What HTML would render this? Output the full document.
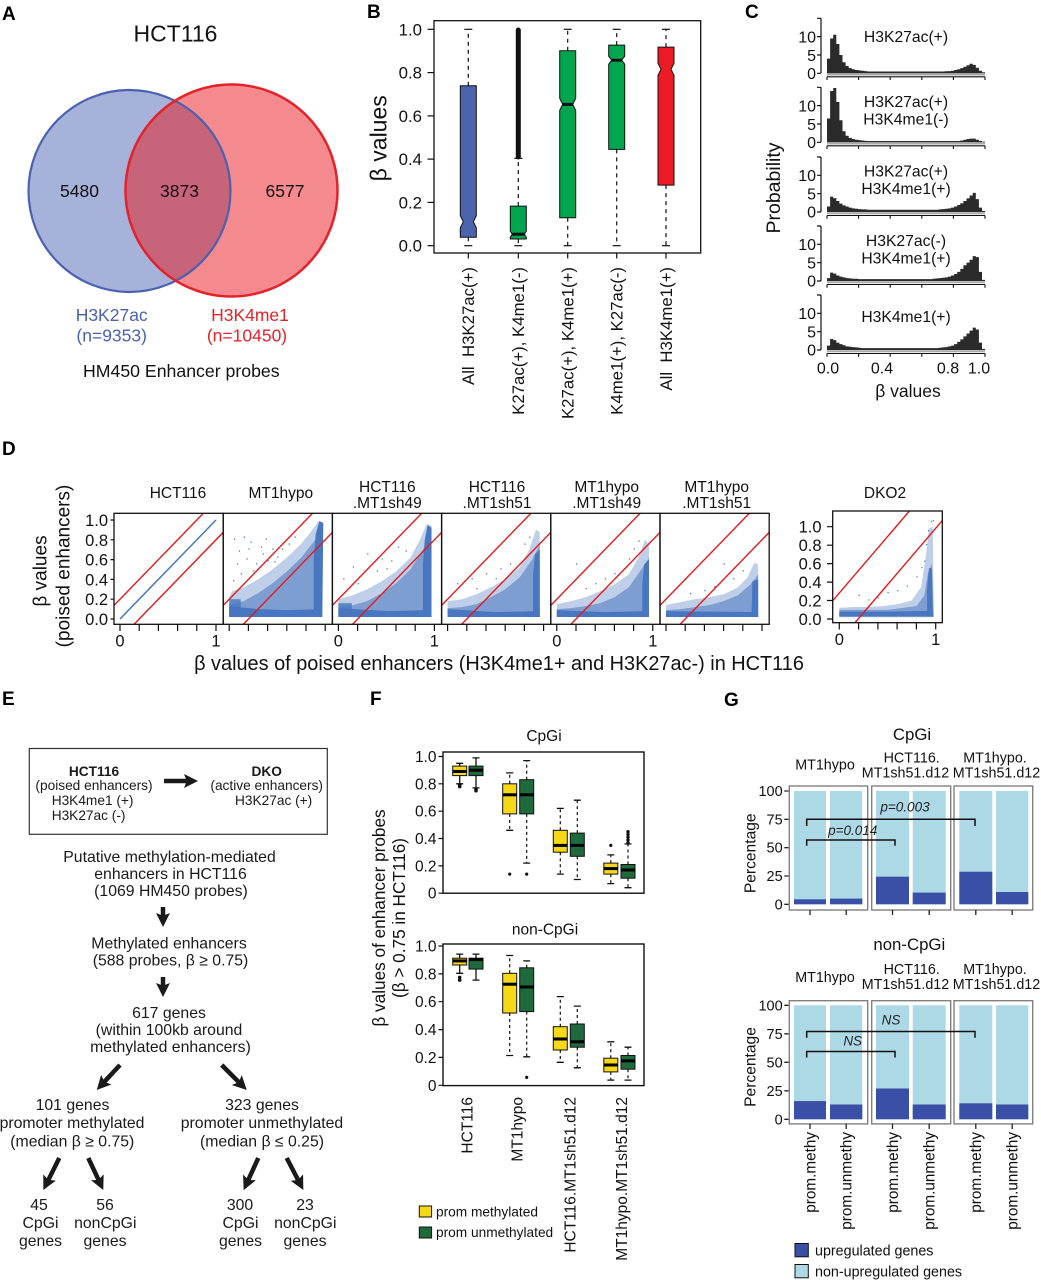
<!DOCTYPE html>
<html><head><meta charset="utf-8"><style>
html,body{margin:0;padding:0;background:#fff;}
svg{display:block;font-family:"Liberation Sans",Arial,sans-serif;}
</style></head><body>
<svg width="1041" height="1280" viewBox="0 0 1041 1280" xmlns="http://www.w3.org/2000/svg">
<rect width="1041" height="1280" fill="#fff"/>
<defs>
<clipPath id="blueC"><circle cx="129.5" cy="191" r="101"/></clipPath>
<clipPath id="dclip"><rect x="114" y="513.3" width="109.2" height="111"/></clipPath>
<clipPath id="dkclip"><rect x="832.7" y="511" width="109.6" height="111.7"/></clipPath>
<marker id="ah" viewBox="0 0 10 10" refX="3" refY="5" markerWidth="14" markerHeight="14" markerUnits="userSpaceOnUse" orient="auto"><path d="M0,0 L10,5 L0,10 L2,5 z" fill="#1a1a1a"/></marker>
</defs>

<!-- ================= A ================= -->
<text x="2" y="20" font-size="19" font-weight="bold">A</text>
<text x="175.5" y="41.5" font-size="23" text-anchor="middle" fill="#111">HCT116</text>
<circle cx="129.5" cy="191" r="101" fill="#a6b2da"/>
<circle cx="231.5" cy="190.5" r="106" fill="#f48a8e"/>
<circle cx="231.5" cy="190.5" r="106" fill="#c8647a" clip-path="url(#blueC)"/>
<circle cx="129.5" cy="191" r="101" fill="none" stroke="#4a62b0" stroke-width="2.2"/>
<circle cx="231.5" cy="190.5" r="106" fill="none" stroke="#e3222a" stroke-width="2.5"/>
<g font-size="17.5" text-anchor="middle" fill="#111">
<text x="79.5" y="197">5480</text>
<text x="179.5" y="197">3873</text>
<text x="285" y="197">6577</text>
</g>
<g font-size="17.5" text-anchor="middle">
<text x="111.7" y="321" fill="#4a62b0">H3K27ac</text>
<text x="111.7" y="341.5" fill="#4a62b0">(n=9353)</text>
<text x="250" y="321" fill="#e3222a">H3K4me1</text>
<text x="247" y="341.5" fill="#e3222a">(n=10450)</text>
</g>
<text x="181.3" y="377" font-size="17.7" text-anchor="middle" fill="#111">HM450 Enhancer probes</text>

<!-- ================= B ================= -->
<text x="367" y="18" font-size="19" font-weight="bold">B</text>
<rect x="434" y="20.7" width="266.7" height="232.3" fill="none" stroke="#111" stroke-width="1.3"/>
<g stroke="#111" stroke-width="1.2">
<line x1="427.5" y1="29.3" x2="434" y2="29.3"/>
<line x1="427.5" y1="72.6" x2="434" y2="72.6"/>
<line x1="427.5" y1="115.9" x2="434" y2="115.9"/>
<line x1="427.5" y1="159.1" x2="434" y2="159.1"/>
<line x1="427.5" y1="202.4" x2="434" y2="202.4"/>
<line x1="427.5" y1="245.7" x2="434" y2="245.7"/>
</g>
<g font-size="16.8" text-anchor="end" fill="#111">
<text x="422" y="35.3">1.0</text>
<text x="422" y="78.6">0.8</text>
<text x="422" y="121.9">0.6</text>
<text x="422" y="165.1">0.4</text>
<text x="422" y="208.4">0.2</text>
<text x="422" y="251.7">0.0</text>
</g>
<text transform="translate(386.5,138.3) rotate(-90)" font-size="23" text-anchor="middle" fill="#111">β values</text>
<g stroke="#111" stroke-width="1.2" stroke-dasharray="4,4">
<line x1="468.3" y1="85.8" x2="468.3" y2="29.3"/><line x1="468.3" y1="237.3" x2="468.3" y2="245.7"/>
<line x1="518.3" y1="206.1" x2="518.3" y2="158.3"/><line x1="518.3" y1="239" x2="518.3" y2="245.7"/>
<line x1="567.7" y1="50.7" x2="567.7" y2="29.3"/><line x1="567.7" y1="217.8" x2="567.7" y2="245.7"/>
<line x1="616.7" y1="45.1" x2="616.7" y2="29.3"/><line x1="616.7" y1="149.4" x2="616.7" y2="245.7"/>
<line x1="666" y1="47.1" x2="666" y2="29.3"/><line x1="666" y1="185.1" x2="666" y2="245.7"/>
</g>
<g stroke="#111" stroke-width="1.2">
<line x1="464.3" y1="29.3" x2="472.3" y2="29.3"/><line x1="464.3" y1="245.7" x2="472.3" y2="245.7"/>
<line x1="514.3" y1="158.3" x2="522.3" y2="158.3"/><line x1="514.3" y1="245.7" x2="522.3" y2="245.7"/>
<line x1="563.7" y1="29.3" x2="571.7" y2="29.3"/><line x1="563.7" y1="245.7" x2="571.7" y2="245.7"/>
<line x1="612.7" y1="29.3" x2="620.7" y2="29.3"/><line x1="612.7" y1="245.7" x2="620.7" y2="245.7"/>
<line x1="662" y1="29.3" x2="670" y2="29.3"/><line x1="662" y1="245.7" x2="670" y2="245.7"/>
</g>
<line x1="518.3" y1="157" x2="518.3" y2="30" stroke="#111" stroke-width="5" stroke-linecap="round"/>
<g stroke="#111" stroke-width="1">
<polygon fill="#4a63ad" points="460.3,237.3 476.3,237.3 476.3,227.7 473.3,221.7 476.3,215.7 476.3,85.8 460.3,85.8 460.3,215.7 463.3,221.7 460.3,227.7"/>
<polygon fill="#00a54f" points="510.3,239 526.3,239 526.3,237.2 524.3,234.2 526.3,231.2 526.3,206.1 510.3,206.1 510.3,231.2 512.3,234.2 510.3,237.2"/>
<polygon fill="#00a54f" points="559.7,217.8 575.7,217.8 575.7,110.4 572.7,104.4 575.7,98.4 575.7,50.7 559.7,50.7 559.7,98.4 562.7,104.4 559.7,110.4"/>
<polygon fill="#00a54f" points="608.7,149.4 624.7,149.4 624.7,64.2 621.7,60.2 624.7,56.2 624.7,45.1 608.7,45.1 608.7,56.2 611.7,60.2 608.7,64.2"/>
<polygon fill="#ed1c24" points="658,185.1 674,185.1 674,75.3 671,69.3 674,63.3 674,47.1 658,47.1 658,63.3 661,69.3 658,75.3"/>
</g>
<g stroke="#111" stroke-width="3">
<line x1="512.3" y1="234.2" x2="524.3" y2="234.2"/>
<line x1="562.7" y1="104.4" x2="572.7" y2="104.4"/>
<line x1="611.7" y1="60.2" x2="621.7" y2="60.2"/>
</g>
<g stroke="#111" stroke-width="1.2">
<line x1="468.3" y1="253" x2="468.3" y2="258.5"/>
<line x1="518.3" y1="253" x2="518.3" y2="258.5"/>
<line x1="567.7" y1="253" x2="567.7" y2="258.5"/>
<line x1="616.7" y1="253" x2="616.7" y2="258.5"/>
<line x1="666" y1="253" x2="666" y2="258.5"/>
</g>
<g font-size="16.8" text-anchor="end" fill="#111">
<text transform="translate(474.2,267) rotate(-90)" xml:space="preserve">All  H3K27ac(+)</text>
<text transform="translate(524.2,267) rotate(-90)">K27ac(+), K4me1(-)</text>
<text transform="translate(573.6,267) rotate(-90)">K27ac(+), K4me1(+)</text>
<text transform="translate(622.6,267) rotate(-90)">K4me1(+), K27ac(-)</text>
<text transform="translate(671.9,267) rotate(-90)" xml:space="preserve">All  H3K4me1(+)</text>
</g>

<!-- ================= C ================= -->
<text x="745" y="18" font-size="19" font-weight="bold">C</text>
<text transform="translate(780,188) rotate(-90)" font-size="19.5" text-anchor="middle" fill="#111">Probability</text>
<g fill="#2b2b2b">
<path transform="translate(827,73.3) scale(3.1,-3.667)" d="M0,0 V4 H1 V9.5 H2 V10.5 H3 V8 H4 V5 H5 V3 H6 V2 H7 V1.4 H8 V1.1 H9 V0.9 H10 V0.8 H11 V0.7 H12 V0.6 H13 V0.5 H38 V0.55 H39 V0.6 H40 V0.7 H41 V0.9 H42 V1.1 H43 V1.4 H44 V1.8 H45 V2.2 H46 V2.6 H47 V2.3 H48 V1.5 H49 V0.7 H50 V0.3 H51 V0 Z"/>
<path transform="translate(827,142.3) scale(3.1,-3.667)" d="M0,0 V6.5 H1 V14 H2 V14.8 H3 V11 H4 V6 H5 V3 H6 V1.8 H7 V1.2 H8 V0.9 H9 V0.7 H10 V0.6 H11 V0.5 H12 V0.4 H13 V0.35 H43 V0.5 H44 V0.7 H45 V0.9 H46 V1.0 H47 V1.0 H48 V0.7 H49 V0.4 H50 V0.2 H51 V0 Z"/>
<path transform="translate(827,212) scale(3.1,-3.667)" d="M0,0 V1.5 H1 V4.2 H2 V3.8 H3 V3.0 H4 V2.3 H5 V1.8 H6 V1.5 H7 V1.2 H8 V1.0 H9 V0.9 H10 V0.8 H11 V0.7 H13 V0.6 H36 V0.7 H37 V0.8 H38 V0.9 H39 V1.0 H40 V1.2 H41 V1.5 H42 V1.9 H43 V2.4 H44 V3.0 H45 V3.7 H46 V4.5 H47 V5.2 H48 V3.5 H49 V1.2 H50 V0.3 H51 V0 Z"/>
<path transform="translate(827,281) scale(3.1,-3.667)" d="M0,0 V0.8 H1 V2.3 H2 V2.0 H3 V1.5 H4 V1.2 H5 V1.0 H6 V0.8 H7 V0.7 H8 V0.6 H10 V0.5 H34 V0.6 H35 V0.7 H36 V0.8 H37 V0.9 H38 V1.0 H39 V1.2 H40 V1.5 H41 V1.9 H42 V2.5 H43 V3.3 H44 V4.3 H45 V5.0 H46 V5.8 H47 V6.8 H48 V6.5 H49 V2.5 H50 V0.3 H51 V0 Z"/>
<path transform="translate(827,350) scale(3.1,-3.667)" d="M0,0 V1.2 H1 V3.0 H2 V2.7 H3 V2.0 H4 V1.6 H5 V1.3 H6 V1.0 H7 V0.9 H8 V0.8 H9 V0.7 H10 V0.6 H11 V0.5 H36 V0.6 H37 V0.7 H38 V0.8 H39 V1.0 H40 V1.2 H41 V1.6 H42 V2.2 H43 V2.9 H44 V3.7 H45 V4.5 H46 V5.3 H47 V6.1 H48 V5.6 H49 V2.0 H50 V0.3 H51 V0 Z"/>
</g>
<g stroke="#111" stroke-width="1.2" fill="none">
<path d="M821,18.3 V73.3 M817,18.3 H821 M817,36.6 H821 M817,55 H821 M817,73.3 H821"/>
<path d="M821,87.3 V142.3 M817,87.3 H821 M817,105.6 H821 M817,124 H821 M817,142.3 H821"/>
<path d="M821,157 V212 M817,157 H821 M817,175.3 H821 M817,193.7 H821 M817,212 H821"/>
<path d="M821,226 V281 M817,226 H821 M817,244.3 H821 M817,262.7 H821 M817,281 H821"/>
<path d="M821,295 V350 M817,295 H821 M817,313.3 H821 M817,331.7 H821 M817,350 H821"/>
</g>
<g stroke="#aaa" stroke-width="2">
<line x1="827" y1="74.5" x2="985" y2="74.5"/><line x1="827" y1="143.5" x2="985" y2="143.5"/><line x1="827" y1="213.2" x2="985" y2="213.2"/><line x1="827" y1="282.2" x2="985" y2="282.2"/><line x1="827" y1="351.2" x2="985" y2="351.2"/>
</g>
<g stroke="#111" stroke-width="1.1" fill="none">
<path d="M827,76.8 H985 M827,76.8 V80 M858.6,76.8 V80 M890.2,76.8 V80 M921.8,76.8 V80 M953.4,76.8 V80 M985,76.8 V80"/>
<path d="M827,145.8 H985 M827,145.8 V149 M858.6,145.8 V149 M890.2,145.8 V149 M921.8,145.8 V149 M953.4,145.8 V149 M985,145.8 V149"/>
<path d="M827,215.5 H985 M827,215.5 V218.7 M858.6,215.5 V218.7 M890.2,215.5 V218.7 M921.8,215.5 V218.7 M953.4,215.5 V218.7 M985,215.5 V218.7"/>
<path d="M827,284.5 H985 M827,284.5 V287.7 M858.6,284.5 V287.7 M890.2,284.5 V287.7 M921.8,284.5 V287.7 M953.4,284.5 V287.7 M985,284.5 V287.7"/>
<path d="M827,353.5 H985 M827,353.5 V356.7 M858.6,353.5 V356.7 M890.2,353.5 V356.7 M921.8,353.5 V356.7 M953.4,353.5 V356.7 M985,353.5 V356.7"/>
</g>
<g font-size="16" text-anchor="end" fill="#111">
<text x="816" y="42.3">10</text><text x="816" y="60.8">5</text><text x="816" y="79">0</text>
<text x="816" y="111.3">10</text><text x="816" y="129.8">5</text><text x="816" y="148">0</text>
<text x="816" y="181">10</text><text x="816" y="199.5">5</text><text x="816" y="217.7">0</text>
<text x="816" y="250">10</text><text x="816" y="268.5">5</text><text x="816" y="286.7">0</text>
<text x="816" y="319">10</text><text x="816" y="337.5">5</text><text x="816" y="355.7">0</text>
</g>
<g font-size="15.7" text-anchor="middle" fill="#111">
<text x="906" y="42">H3K27ac(+)</text>
<text x="906" y="107">H3K27ac(+)</text><text x="906" y="124.5">H3K4me1(-)</text>
<text x="906" y="176.5">H3K27ac(+)</text><text x="906" y="194">H3K4me1(+)</text>
<text x="906" y="246">H3K27ac(-)</text><text x="906" y="263.5">H3K4me1(+)</text>
<text x="906" y="322">H3K4me1(+)</text>
</g>
<g font-size="16" text-anchor="middle" fill="#111">
<text x="828" y="373.5">0.0</text><text x="882" y="373.5">0.4</text><text x="948" y="373.5">0.8</text><text x="979" y="373.5">1.0</text>
</g>
<text x="908" y="397" font-size="17.5" text-anchor="middle" fill="#111">β values</text>

<!-- ================= D ================= -->
<text x="2" y="455" font-size="19" font-weight="bold">D</text>
<g font-size="19" text-anchor="middle" fill="#111">
<text transform="translate(46.7,571) rotate(-90)">β values</text>
<text transform="translate(69.7,566) rotate(-90)">(poised enhancers)</text>
</g>
<g font-size="15.5" text-anchor="middle" fill="#111">
<text x="178" y="498">HCT116</text>
<text x="280.8" y="498">MT1hypo</text>
<text x="387.3" y="492">HCT116</text><text x="387.3" y="508">.MT1sh49</text>
<text x="497" y="492">HCT116</text><text x="497" y="508">.MT1sh51</text>
<text x="606.7" y="492">MT1hypo</text><text x="606.7" y="508">.MT1sh49</text>
<text x="716.7" y="492">MT1hypo</text><text x="716.7" y="508">.MT1sh51</text>
<text x="885" y="498">DKO2</text>
</g>
<g fill="#4876c0">
<g transform="translate(229.2,619) scale(0.96,-0.99)">
<polygon fill-opacity="0.35" points="0,2 95,2 98,97 93,99 85,88 75,76 60,62 45,50 30,40 15,32 3,28 0,22"/>
<polygon fill-opacity="0.55" points="0,2 96,2 97,90 88,78 75,62 60,48 45,36 30,26 15,18 0,14"/>
<polygon points="0,2 96,2 96,10 60,9 30,10 0,13"/>
<polygon points="88,2 97,2 98,97 94,99 90,85 88,60"/>
<polygon fill-opacity="0.8" points="0,2 12,2 12,20 0,20"/>
<g><rect x="5" y="80" width="1.3" height="1.3"/><rect x="10" y="68" width="1.3" height="1.3"/><rect x="15" y="82" width="1.3" height="1.3"/><rect x="22" y="77" width="1.3" height="1.3"/><rect x="18" y="60" width="1.3" height="1.3"/><rect x="28" y="55" width="1.3" height="1.3"/><rect x="35" y="65" width="1.3" height="1.3"/><rect x="40" y="58" width="1.3" height="1.3"/><rect x="12" y="45" width="1.3" height="1.3"/><rect x="25" y="48" width="1.3" height="1.3"/><rect x="45" y="70" width="1.3" height="1.3"/><rect x="50" y="62" width="1.3" height="1.3"/><rect x="8" y="55" width="1.3" height="1.3"/><rect x="33" y="72" width="1.3" height="1.3"/><rect x="55" y="70" width="1.3" height="1.3"/><rect x="38" y="80" width="1.3" height="1.3"/><rect x="62" y="75" width="1.3" height="1.3"/><rect x="20" y="70" width="1.3" height="1.3"/><rect x="4" y="38" width="1.3" height="1.3"/><rect x="30" y="50" width="1.3" height="1.3"/><rect x="47" y="57" width="1.3" height="1.3"/><rect x="68" y="82" width="1.3" height="1.3"/></g>
</g>
<g transform="translate(338.4,619) scale(0.96,-0.99)">
<polygon fill-opacity="0.35" points="0,2 95,2 97,94 92,96 85,80 75,62 60,48 45,38 30,30 15,24 0,20"/>
<polygon fill-opacity="0.55" points="0,2 96,2 96,85 88,70 75,50 60,36 45,26 30,18 15,14 0,12"/>
<polygon points="0,2 96,2 96,9 50,8 0,11"/>
<polygon points="88,2 97,2 97,92 93,95 90,80 88,55"/>
<polygon fill-opacity="0.8" points="0,2 14,2 14,16 0,16"/>
<g><rect x="5" y="40" width="1.3" height="1.3"/><rect x="15" y="52" width="1.3" height="1.3"/><rect x="25" y="45" width="1.3" height="1.3"/><rect x="35" y="55" width="1.3" height="1.3"/><rect x="45" y="60" width="1.3" height="1.3"/><rect x="55" y="58" width="1.3" height="1.3"/><rect x="62" y="72" width="1.3" height="1.3"/><rect x="70" y="68" width="1.3" height="1.3"/><rect x="20" y="35" width="1.3" height="1.3"/><rect x="40" y="48" width="1.3" height="1.3"/><rect x="30" y="65" width="1.3" height="1.3"/><rect x="50" y="50" width="1.3" height="1.3"/></g>
</g>
<g transform="translate(447.6,619) scale(0.96,-0.99)">
<polygon fill-opacity="0.35" points="0,2 95,2 96,88 92,90 85,70 75,52 60,40 45,32 30,25 15,20 0,18"/>
<polygon fill-opacity="0.55" points="0,2 96,2 96,75 88,60 75,42 60,30 45,22 30,15 15,12 0,11"/>
<polygon points="0,2 96,2 96,8 50,7 0,10"/>
<polygon points="89,2 96,2 96,70 91,65 89,45"/>
<g><rect x="10" y="35" width="1.3" height="1.3"/><rect x="25" y="40" width="1.3" height="1.3"/><rect x="40" y="45" width="1.3" height="1.3"/><rect x="55" y="50" width="1.3" height="1.3"/><rect x="65" y="55" width="1.3" height="1.3"/><rect x="80" y="75" width="1.3" height="1.3"/><rect x="85" y="82" width="1.3" height="1.3"/><rect x="30" y="30" width="1.3" height="1.3"/><rect x="50" y="40" width="1.3" height="1.3"/></g>
</g>
<g transform="translate(556.8,619) scale(0.96,-0.99)">
<polygon fill-opacity="0.35" points="0,2 96,2 96,75 92,80 85,62 75,45 60,35 45,28 30,22 15,18 0,15"/>
<polygon fill-opacity="0.55" points="0,2 96,2 96,62 88,50 75,32 60,22 45,16 30,13 15,11 0,10"/>
<polygon points="0,2 96,2 96,8 50,7 0,9"/>
<polygon points="89,2 96,2 96,60 91,55 89,35"/>
<g><rect x="20" y="55" width="1.3" height="1.3"/><rect x="40" y="35" width="1.3" height="1.3"/><rect x="50" y="40" width="1.3" height="1.3"/><rect x="60" y="45" width="1.3" height="1.3"/><rect x="70" y="50" width="1.3" height="1.3"/><rect x="75" y="60" width="1.3" height="1.3"/><rect x="80" y="70" width="1.3" height="1.3"/><rect x="85" y="78" width="1.3" height="1.3"/><rect x="30" y="30" width="1.3" height="1.3"/></g>
</g>
<g transform="translate(666,619) scale(0.96,-0.99)">
<polygon fill-opacity="0.35" points="0,2 96,2 96,55 92,57 85,42 75,32 60,25 45,22 30,20 15,17 0,14"/>
<polygon fill-opacity="0.55" points="0,2 96,2 96,45 88,35 75,24 60,18 45,14 30,12 15,10 0,9"/>
<polygon points="0,2 96,2 96,7 0,8"/>
<polygon points="89,2 96,2 96,40 90,38"/>
<g><rect x="60" y="55" width="1.3" height="1.3"/><rect x="66" y="46" width="1.3" height="1.3"/><rect x="40" y="28" width="1.3" height="1.3"/><rect x="50" y="32" width="1.3" height="1.3"/><rect x="70" y="40" width="1.3" height="1.3"/><rect x="80" y="48" width="1.3" height="1.3"/><rect x="25" y="25" width="1.3" height="1.3"/></g>
</g>
<g transform="translate(839.3,619) scale(0.964,-0.923)">
<polygon fill-opacity="0.35" points="0,2 98,2 97,100 93,98 90,70 85,35 75,20 60,16 45,14 30,13 15,13 0,12"/>
<polygon fill-opacity="0.55" points="0,2 98,2 96,60 92,50 88,25 80,14 50,10 0,10"/>
<polygon points="0,3 97,3 97,9 50,8 0,8"/>
<polygon points="91,3 97,3 96,55 93,55 91,30"/>
<g><rect x="20" y="25" width="1.3" height="1.3"/><rect x="40" y="22" width="1.3" height="1.3"/><rect x="50" y="28" width="1.3" height="1.3"/><rect x="60" y="30" width="1.3" height="1.3"/><rect x="70" y="35" width="1.3" height="1.3"/><rect x="80" y="45" width="1.3" height="1.3"/><rect x="85" y="55" width="1.3" height="1.3"/><rect x="88" y="62" width="1.3" height="1.3"/><rect x="90" y="80" width="1.3" height="1.3"/><rect x="92" y="95" width="1.3" height="1.3"/><rect x="95" y="105" width="1.3" height="1.3"/><rect x="97" y="106" width="1.3" height="1.3"/><rect x="30" y="20" width="1.3" height="1.3"/></g>
</g>
</g>
<line x1="120" y1="619" x2="216" y2="520" stroke="#4a7bc4" stroke-width="1.6"/>
<g stroke="#e41a1c" stroke-width="1.4">
<g><g clip-path="url(#dclip)"><line x1="91.2" y1="628.9" x2="235.2" y2="480.4"/><line x1="120" y1="638.8" x2="264" y2="490.3"/></g></g>
<g transform="translate(109.2,0)"><g clip-path="url(#dclip)"><line x1="91.2" y1="628.9" x2="235.2" y2="480.4"/><line x1="120" y1="638.8" x2="264" y2="490.3"/></g></g>
<g transform="translate(218.4,0)"><g clip-path="url(#dclip)"><line x1="91.2" y1="628.9" x2="235.2" y2="480.4"/><line x1="120" y1="638.8" x2="264" y2="490.3"/></g></g>
<g transform="translate(327.6,0)"><g clip-path="url(#dclip)"><line x1="91.2" y1="628.9" x2="235.2" y2="480.4"/><line x1="120" y1="638.8" x2="264" y2="490.3"/></g></g>
<g transform="translate(436.8,0)"><g clip-path="url(#dclip)"><line x1="91.2" y1="628.9" x2="235.2" y2="480.4"/><line x1="120" y1="638.8" x2="264" y2="490.3"/></g></g>
<g transform="translate(546,0)"><g clip-path="url(#dclip)"><line x1="91.2" y1="628.9" x2="235.2" y2="480.4"/><line x1="120" y1="638.8" x2="264" y2="490.3"/></g></g>
<g clip-path="url(#dkclip)"><line x1="810" y1="627.3" x2="960" y2="451.8"/><line x1="840" y1="640.2" x2="960" y2="499.9"/></g>
</g>
<g fill="none" stroke="#111" stroke-width="1.3">
<rect x="114" y="513.3" width="109.2" height="111"/>
<rect x="223.2" y="513.3" width="109.2" height="111"/>
<rect x="332.4" y="513.3" width="109.2" height="111"/>
<rect x="441.6" y="513.3" width="109.2" height="111"/>
<rect x="550.8" y="513.3" width="109.2" height="111"/>
<rect x="660" y="513.3" width="109.2" height="111"/>
<rect x="832.7" y="511" width="109.6" height="111.7"/>
</g>
<g stroke="#111" stroke-width="1.2" fill="none">
<path d="M110.5,520 H114 M110.5,539.8 H114 M110.5,559.6 H114 M110.5,579.4 H114 M110.5,599.2 H114 M110.5,619 H114"/>
<path d="M827,526.7 H832.7 M827,545.2 H832.7 M827,563.6 H832.7 M827,582.1 H832.7 M827,600.5 H832.7 M827,619 H832.7"/>
<path d="M120,624.3 V631 M139.2,624.3 V631 M158.4,624.3 V631 M177.6,624.3 V631 M196.8,624.3 V631 M216,624.3 V631"/>
<path d="M229.2,624.3 V631 M248.4,624.3 V631 M267.6,624.3 V631 M286.8,624.3 V631 M306,624.3 V631 M325.2,624.3 V631"/>
<path d="M338.4,624.3 V631 M357.6,624.3 V631 M376.8,624.3 V631 M396,624.3 V631 M415.2,624.3 V631 M434.4,624.3 V631"/>
<path d="M447.6,624.3 V631 M466.8,624.3 V631 M486,624.3 V631 M505.2,624.3 V631 M524.4,624.3 V631 M543.6,624.3 V631"/>
<path d="M556.8,624.3 V631 M576,624.3 V631 M595.2,624.3 V631 M614.4,624.3 V631 M633.6,624.3 V631 M652.8,624.3 V631"/>
<path d="M666,624.3 V631 M685.2,624.3 V631 M704.4,624.3 V631 M723.6,624.3 V631 M742.8,624.3 V631 M762,624.3 V631"/>
<path d="M839.3,622.7 V629.5 M858.6,622.7 V629.5 M877.9,622.7 V629.5 M897.1,622.7 V629.5 M916.4,622.7 V629.5 M935.7,622.7 V629.5"/>
</g>
<g font-size="16.5" text-anchor="end" fill="#111">
<text x="108" y="526">1.0</text><text x="108" y="545.8">0.8</text><text x="108" y="565.6">0.6</text><text x="108" y="585.4">0.4</text><text x="108" y="605.2">0.2</text><text x="108" y="625">0.0</text>
<text x="821.5" y="532.7">1.0</text><text x="821.5" y="551.2">0.8</text><text x="821.5" y="569.6">0.6</text><text x="821.5" y="588.1">0.4</text><text x="821.5" y="606.5">0.2</text><text x="821.5" y="625">0.0</text>
</g>
<g font-size="16.5" text-anchor="middle" fill="#111">
<text x="120" y="646.7">0</text><text x="216" y="646.7">1</text>
<text x="338.4" y="646.7">0</text><text x="434.4" y="646.7">1</text>
<text x="556.8" y="646.7">0</text><text x="652.8" y="646.7">1</text>
<text x="839.3" y="645">0</text><text x="935.7" y="645">1</text>
</g>
<text x="499" y="670" font-size="19.9" text-anchor="middle" fill="#111">β values of poised enhancers (H3K4me1+ and H3K27ac-) in HCT116</text>

<!-- ================= E ================= -->
<text x="2" y="705" font-size="19" font-weight="bold">E</text>
<rect x="29.3" y="748.5" width="298" height="85.8" fill="none" stroke="#333" stroke-width="1.2"/>
<g font-size="13.7" fill="#1a1a1a">
<text x="94" y="776" text-anchor="middle" font-weight="bold">HCT116</text>
<text x="94" y="790" text-anchor="middle">(poised enhancers)</text>
<text x="51.7" y="805">H3K4me1 (+)</text>
<text x="51.7" y="820">H3K27ac (-)</text>
<text x="266.7" y="776" text-anchor="middle" font-weight="bold">DKO</text>
<text x="266.7" y="790" text-anchor="middle">(active enhancers)</text>
<text x="235" y="805">H3K27ac (+)</text>
</g>
<g stroke="#1a1a1a" stroke-width="4.5" marker-end="url(#ah)">
<line x1="164" y1="781" x2="188.2" y2="781"/>
<line x1="163" y1="907" x2="163" y2="917.2"/>
<line x1="163" y1="977" x2="163" y2="987.2"/>
<line x1="120" y1="1065" x2="103.4" y2="1082.8"/>
<line x1="221.7" y1="1065" x2="239.8" y2="1083.1"/>
<line x1="59.3" y1="1158" x2="47.7" y2="1181.2"/>
<line x1="88.3" y1="1158" x2="99.1" y2="1181.1"/>
<line x1="258.3" y1="1158" x2="247.7" y2="1181.2"/>
<line x1="286.7" y1="1158" x2="298.8" y2="1181.3"/>
</g>
<g font-size="15.8" text-anchor="middle" fill="#1a1a1a">
<text x="169.5" y="862">Putative methylation-mediated</text>
<text x="170.5" y="879">enhancers in HCT116</text>
<text x="171" y="896">(1069 HM450 probes)</text>
<text x="169" y="948.5">Methylated enhancers</text>
<text x="170.5" y="965.5">(588 probes, β ≥ 0.75)</text>
<text x="169" y="1018">617 genes</text>
<text x="169" y="1035">(within 100kb around</text>
<text x="170.5" y="1052">methylated enhancers)</text>
<text x="72.5" y="1110">101 genes</text>
<text x="72" y="1128">promoter methylated</text>
<text x="72.3" y="1146.5">(median β ≥ 0.75)</text>
<text x="262" y="1110">323 genes</text>
<text x="262" y="1128">promoter unmethylated</text>
<text x="262" y="1146.5">(median β ≤ 0.25)</text>
<text x="39" y="1210">45</text><text x="40.5" y="1228">CpGi</text><text x="40.5" y="1246">genes</text>
<text x="105" y="1210">56</text><text x="105.3" y="1228">nonCpGi</text><text x="105" y="1246">genes</text>
<text x="240" y="1210">300</text><text x="240.5" y="1228">CpGi</text><text x="240.5" y="1246">genes</text>
<text x="305" y="1210">23</text><text x="305.3" y="1228">nonCpGi</text><text x="305" y="1246">genes</text>
</g>

<!-- ================= F ================= -->
<text x="370" y="705" font-size="19" font-weight="bold">F</text>
<g font-size="15.5" text-anchor="middle" fill="#111">
<text x="544" y="741">CpGi</text>
<text x="545" y="934.5">non-CpGi</text>
</g>
<g font-size="17.2" text-anchor="middle" fill="#111">
<text transform="translate(385,918) rotate(-90)">β values of enhancer probes</text>
<text transform="translate(405,918) rotate(-90)">(β &gt; 0.75 in HCT116)</text>
</g>
<rect x="443" y="752" width="201" height="141.2" fill="none" stroke="#111" stroke-width="1.4"/>
<rect x="443" y="944" width="201" height="141.6" fill="none" stroke="#111" stroke-width="1.4"/>
<g stroke="#111" stroke-width="1.2" fill="none">
<path d="M438.5,756.5 H443 M438.5,783.8 H443 M438.5,811.2 H443 M438.5,838.5 H443 M438.5,865.9 H443 M438.5,893.2 H443"/>
<path d="M438.5,946 H443 M438.5,973.9 H443 M438.5,1001.7 H443 M438.5,1029.6 H443 M438.5,1057.4 H443 M438.5,1085.3 H443"/>
</g>
<g font-size="15.5" text-anchor="end" fill="#111">
<text x="436.5" y="762">1.0</text><text x="436.5" y="789.3">0.8</text><text x="436.5" y="816.7">0.6</text><text x="436.5" y="844">0.4</text><text x="436.5" y="871.4">0.2</text><text x="436.5" y="898.7">0</text>
<text x="436.5" y="951.5">1.0</text><text x="436.5" y="979.4">0.8</text><text x="436.5" y="1007.2">0.6</text><text x="436.5" y="1035.1">0.4</text><text x="436.5" y="1062.9">0.2</text><text x="436.5" y="1090.8">0</text>
</g>
<g stroke="#111" stroke-width="1.2" stroke-dasharray="3,3">
<line x1="509.7" y1="783.8" x2="509.7" y2="772.9"/><line x1="509.7" y1="813.9" x2="509.7" y2="830.3"/>
<line x1="526.7" y1="779.7" x2="526.7" y2="760.6"/><line x1="526.7" y1="813.9" x2="526.7" y2="863.1"/>
<line x1="560.3" y1="830.3" x2="560.3" y2="808.4"/><line x1="560.3" y1="852.2" x2="560.3" y2="874.1"/>
<line x1="577.3" y1="833.1" x2="577.3" y2="800.2"/><line x1="577.3" y1="856.3" x2="577.3" y2="879.5"/>
<line x1="610.8" y1="863.1" x2="610.8" y2="854.9"/><line x1="610.8" y1="874.1" x2="610.8" y2="883.6"/>
<line x1="628" y1="864.5" x2="628" y2="844"/><line x1="628" y1="878.2" x2="628" y2="887.7"/>
<line x1="509.7" y1="973.3" x2="509.7" y2="955.5"/><line x1="509.7" y1="1013" x2="509.7" y2="1055.5"/>
<line x1="526.7" y1="967.8" x2="526.7" y2="960.9"/><line x1="526.7" y1="1011.6" x2="526.7" y2="1056.8"/>
<line x1="560.3" y1="1026.7" x2="560.3" y2="996.6"/><line x1="560.3" y1="1050" x2="560.3" y2="1062.3"/>
<line x1="577.3" y1="1024" x2="577.3" y2="1006.1"/><line x1="577.3" y1="1047.2" x2="577.3" y2="1067.8"/>
<line x1="610.8" y1="1058.2" x2="610.8" y2="1041.8"/><line x1="610.8" y1="1071.9" x2="610.8" y2="1080.1"/>
<line x1="628" y1="1055.5" x2="628" y2="1047.2"/><line x1="628" y1="1069.2" x2="628" y2="1080.1"/>
</g>
<g stroke="#111" stroke-width="1.3">
<line x1="459.7" y1="763.3" x2="459.7" y2="766.1"/><line x1="459.7" y1="775.6" x2="459.7" y2="783.8"/>
<line x1="476" y1="757.9" x2="476" y2="766.1"/><line x1="476" y1="775.6" x2="476" y2="787.9"/>
<line x1="459.7" y1="954.1" x2="459.7" y2="958.2"/><line x1="459.7" y1="965" x2="459.7" y2="973.3"/>
<line x1="476" y1="954.1" x2="476" y2="958.2"/><line x1="476" y1="969.1" x2="476" y2="980.1"/>
</g>
<g stroke="#111" stroke-width="1.3" fill="none">
<path d="M456.2,763.3 H463.2 M456.2,783.8 H463.2 M472.5,757.9 H479.5 M472.5,787.9 H479.5 M506.2,772.9 H513.2 M506.2,830.3 H513.2 M523.2,760.6 H530.2 M523.2,863.1 H530.2 M556.8,808.4 H563.8 M556.8,874.1 H563.8 M573.8,800.2 H580.8 M573.8,879.5 H580.8 M607.3,854.9 H614.3 M607.3,883.6 H614.3 M624.5,844 H631.5 M624.5,887.7 H631.5"/>
<path d="M456.2,954.1 H463.2 M456.2,973.3 H463.2 M472.5,954.1 H479.5 M472.5,980.1 H479.5 M506.2,955.5 H513.2 M506.2,1055.5 H513.2 M523.2,960.9 H530.2 M523.2,1056.8 H530.2 M556.8,996.6 H563.8 M556.8,1062.3 H563.8 M573.8,1006.1 H580.8 M573.8,1067.8 H580.8 M607.3,1041.8 H614.3 M607.3,1080.1 H614.3 M624.5,1047.2 H631.5 M624.5,1080.1 H631.5"/>
</g>
<g fill="#111">
<circle cx="459.7" cy="786.6" r="1.8"/><circle cx="459.7" cy="785" r="1.8"/>
<circle cx="476" cy="790.7" r="1.8"/><circle cx="476" cy="789.3" r="1.8"/>
<circle cx="509.7" cy="874.1" r="1.6"/><circle cx="526.7" cy="874.1" r="1.6"/>
<circle cx="610.8" cy="845.4" r="1.6"/>
<circle cx="628" cy="842.6" r="1.7"/><circle cx="628" cy="839.9" r="1.7"/><circle cx="628" cy="837.2" r="1.7"/><circle cx="628" cy="834.4" r="1.7"/><circle cx="628" cy="831.7" r="1.7"/>
<circle cx="459.7" cy="980.1" r="1.8"/><circle cx="459.7" cy="977.4" r="1.8"/>
<circle cx="526.7" cy="1077.4" r="1.6"/>
</g>
<g stroke="#111" stroke-width="1">
<rect x="452.7" y="766.1" width="14" height="9.5" fill="#f6d816"/>
<rect x="469" y="766.1" width="14" height="9.5" fill="#1e6a3c"/>
<rect x="502.7" y="783.8" width="14" height="30.1" fill="#f6d816"/>
<rect x="519.7" y="779.7" width="14" height="34.2" fill="#1e6a3c"/>
<rect x="553.3" y="830.3" width="14" height="21.9" fill="#f6d816"/>
<rect x="570.3" y="833.1" width="14" height="23.2" fill="#1e6a3c"/>
<rect x="603.8" y="863.1" width="14" height="11" fill="#f6d816"/>
<rect x="621" y="864.5" width="14" height="13.7" fill="#1e6a3c"/>
<rect x="452.7" y="958.2" width="14" height="6.8" fill="#f6d816"/>
<rect x="469" y="958.2" width="14" height="10.9" fill="#1e6a3c"/>
<rect x="502.7" y="973.3" width="14" height="39.7" fill="#f6d816"/>
<rect x="519.7" y="967.8" width="14" height="43.8" fill="#1e6a3c"/>
<rect x="553.3" y="1026.7" width="14" height="23.3" fill="#f6d816"/>
<rect x="570.3" y="1024" width="14" height="23.2" fill="#1e6a3c"/>
<rect x="603.8" y="1058.2" width="14" height="13.7" fill="#f6d816"/>
<rect x="621" y="1055.5" width="14" height="13.7" fill="#1e6a3c"/>
</g>
<g stroke="#000" stroke-width="3">
<line x1="452.7" y1="771.5" x2="466.7" y2="771.5"/><line x1="469" y1="770.2" x2="483" y2="770.2"/>
<line x1="502.7" y1="794.8" x2="516.7" y2="794.8"/><line x1="519.7" y1="794.8" x2="533.7" y2="794.8"/>
<line x1="553.3" y1="845.4" x2="567.3" y2="845.4"/><line x1="570.3" y1="845.4" x2="584.3" y2="845.4"/>
<line x1="603.8" y1="868.6" x2="617.8" y2="868.6"/><line x1="621" y1="870" x2="635" y2="870"/>
<line x1="452.7" y1="960.9" x2="466.7" y2="960.9"/><line x1="469" y1="959.6" x2="483" y2="959.6"/>
<line x1="502.7" y1="984.2" x2="516.7" y2="984.2"/><line x1="519.7" y1="987" x2="533.7" y2="987"/>
<line x1="553.3" y1="1039" x2="567.3" y2="1039"/><line x1="570.3" y1="1041.8" x2="584.3" y2="1041.8"/>
<line x1="603.8" y1="1065" x2="617.8" y2="1065"/><line x1="621" y1="1060.9" x2="635" y2="1060.9"/>
</g>
<g font-size="15.5" text-anchor="end" fill="#111">
<text transform="translate(472.5,1097) rotate(-90)">HCT116</text>
<text transform="translate(522.3,1097) rotate(-90)">MT1hypo</text>
<text transform="translate(575.5,1097) rotate(-90)">HCT116.MT1sh51.d12</text>
<text transform="translate(627.2,1097) rotate(-90)">MT1hypo.MT1sh51.d12</text>
</g>
<rect x="419.3" y="1206" width="12.3" height="11" fill="#f6d816" stroke="#111" stroke-width="1"/>
<rect x="419.3" y="1227" width="12.3" height="11" fill="#1e6a3c" stroke="#111" stroke-width="1"/>
<g font-size="13.7" fill="#111">
<text x="436" y="1216.5">prom methylated</text>
<text x="436" y="1237">prom unmethylated</text>
</g>

<!-- ================= G ================= -->
<text x="724" y="706" font-size="19" font-weight="bold">G</text>
<g font-size="16.8" text-anchor="middle" fill="#111">
<text x="912" y="740">CpGi</text>
<text x="909.3" y="950">non-CpGi</text>
</g>
<g font-size="14.3" text-anchor="middle" fill="#111">
<text x="825" y="769.3">MT1hypo</text>
<text x="911.7" y="762.7">HCT116.</text><text x="905.5" y="777.7">MT1sh51.d12</text>
<text x="995" y="762.7">MT1hypo.</text><text x="996.5" y="777.7">MT1sh51.d12</text>
<text x="825" y="982">MT1hypo</text>
<text x="911.7" y="974">HCT116.</text><text x="905.5" y="989.2">MT1sh51.d12</text>
<text x="995" y="974">MT1hypo.</text><text x="996.5" y="989.2">MT1sh51.d12</text>
</g>
<g fill="#add8e6">
<rect x="794" y="791" width="32" height="113.3"/><rect x="830" y="791" width="32.3" height="113.3"/>
<rect x="876" y="791" width="33" height="113.3"/><rect x="912.7" y="791" width="33" height="113.3"/>
<rect x="959.3" y="791" width="33" height="113.3"/><rect x="996" y="791" width="32.3" height="113.3"/>
<rect x="794" y="1005.3" width="32" height="114"/><rect x="830" y="1005.3" width="32.3" height="114"/>
<rect x="876" y="1005.3" width="33" height="114"/><rect x="912.7" y="1005.3" width="33" height="114"/>
<rect x="959.3" y="1005.3" width="33" height="114"/><rect x="996" y="1005.3" width="32.3" height="114"/>
</g>
<g fill="#3a4fa6">
<rect x="794" y="899.3" width="32" height="5"/><rect x="830" y="898.6" width="32.3" height="5.7"/>
<rect x="876" y="876.7" width="33" height="27.6"/><rect x="912.7" y="892.6" width="33" height="11.7"/>
<rect x="959.3" y="871.7" width="33" height="32.6"/><rect x="996" y="892" width="32.3" height="12.3"/>
<rect x="794" y="1101.1" width="32" height="18.2"/><rect x="830" y="1104.5" width="32.3" height="14.8"/>
<rect x="876" y="1088.5" width="33" height="30.8"/><rect x="912.7" y="1104.5" width="33" height="14.8"/>
<rect x="959.3" y="1103.3" width="33" height="16"/><rect x="996" y="1104.5" width="32.3" height="14.8"/>
</g>
<g fill="none" stroke="#808080" stroke-width="1.4">
<rect x="789.3" y="786" width="78.4" height="124"/>
<rect x="871.7" y="786" width="79" height="124"/>
<rect x="954" y="786" width="78.7" height="124"/>
<rect x="789.3" y="1000.7" width="78.4" height="123.2"/>
<rect x="871.7" y="1000.7" width="79" height="123.2"/>
<rect x="954" y="1000.7" width="78.7" height="123.2"/>
</g>
<g stroke="#222" stroke-width="1.3" fill="none">
<path d="M784.3,791 H788.5 M784.3,819.3 H788.5 M784.3,847.7 H788.5 M784.3,876 H788.5 M784.3,904.3 H788.5"/>
<path d="M784.3,1005.3 H788.5 M784.3,1033.8 H788.5 M784.3,1062.3 H788.5 M784.3,1090.8 H788.5 M784.3,1119.3 H788.5"/>
<path d="M810,910 V915 M846.2,910 V915 M892.5,910 V915 M929.2,910 V915 M975.8,910 V915 M1012.2,910 V915"/>
<path d="M810,1123.9 V1129 M846.2,1123.9 V1129 M892.5,1123.9 V1129 M929.2,1123.9 V1129 M975.8,1123.9 V1129 M1012.2,1123.9 V1129"/>
</g>
<g font-size="14.5" text-anchor="end" fill="#111">
<text x="782.7" y="796">100</text><text x="782.7" y="824.3">75</text><text x="782.7" y="852.7">50</text><text x="782.7" y="881">25</text><text x="782.7" y="909.3">0</text>
<text x="782.7" y="1010.3">100</text><text x="782.7" y="1038.8">75</text><text x="782.7" y="1067.3">50</text><text x="782.7" y="1095.8">25</text><text x="782.7" y="1124.3">0</text>
</g>
<g font-size="15.6" text-anchor="middle" fill="#111">
<text transform="translate(755.5,853.3) rotate(-90)">Percentage</text>
<text transform="translate(755.5,1067) rotate(-90)">Percentage</text>
</g>
<g stroke="#111" stroke-width="1.5" fill="none">
<path d="M806.7,826 V819.3 H975 V826"/>
<path d="M806.7,845.7 V840 H895 V845.7"/>
<path d="M806.7,1037.8 V1031.5 H975 V1037.8"/>
<path d="M806.7,1057.5 V1051.5 H895 V1057.5"/>
</g>
<g font-size="13.5" font-style="italic" text-anchor="middle" fill="#222">
<text x="905" y="811.7">p=0.003</text>
<text x="852.7" y="835">p=0.014</text>
<text x="891" y="1024.4">NS</text>
<text x="852.7" y="1045.3">NS</text>
</g>
<g font-size="15.3" text-anchor="end" fill="#111">
<text transform="translate(815.4,1132) rotate(-90)">prom.methy</text>
<text transform="translate(851.6,1132) rotate(-90)">prom.unmethy</text>
<text transform="translate(897.9,1132) rotate(-90)">prom.methy</text>
<text transform="translate(934.6,1132) rotate(-90)">prom.unmethy</text>
<text transform="translate(981.2,1132) rotate(-90)">prom.methy</text>
<text transform="translate(1017.6,1132) rotate(-90)">prom.unmethy</text>
</g>
<rect x="795" y="1243.5" width="13.3" height="13.3" fill="#3a4fa6" stroke="#111" stroke-width="1"/>
<rect x="795" y="1264.5" width="13.3" height="13.3" fill="#add8e6" stroke="#111" stroke-width="1"/>
<g font-size="14.3" fill="#111">
<text x="815" y="1255.5">upregulated genes</text>
<text x="815" y="1276.5">non-upregulated genes</text>
</g>
</svg>
</body></html>
